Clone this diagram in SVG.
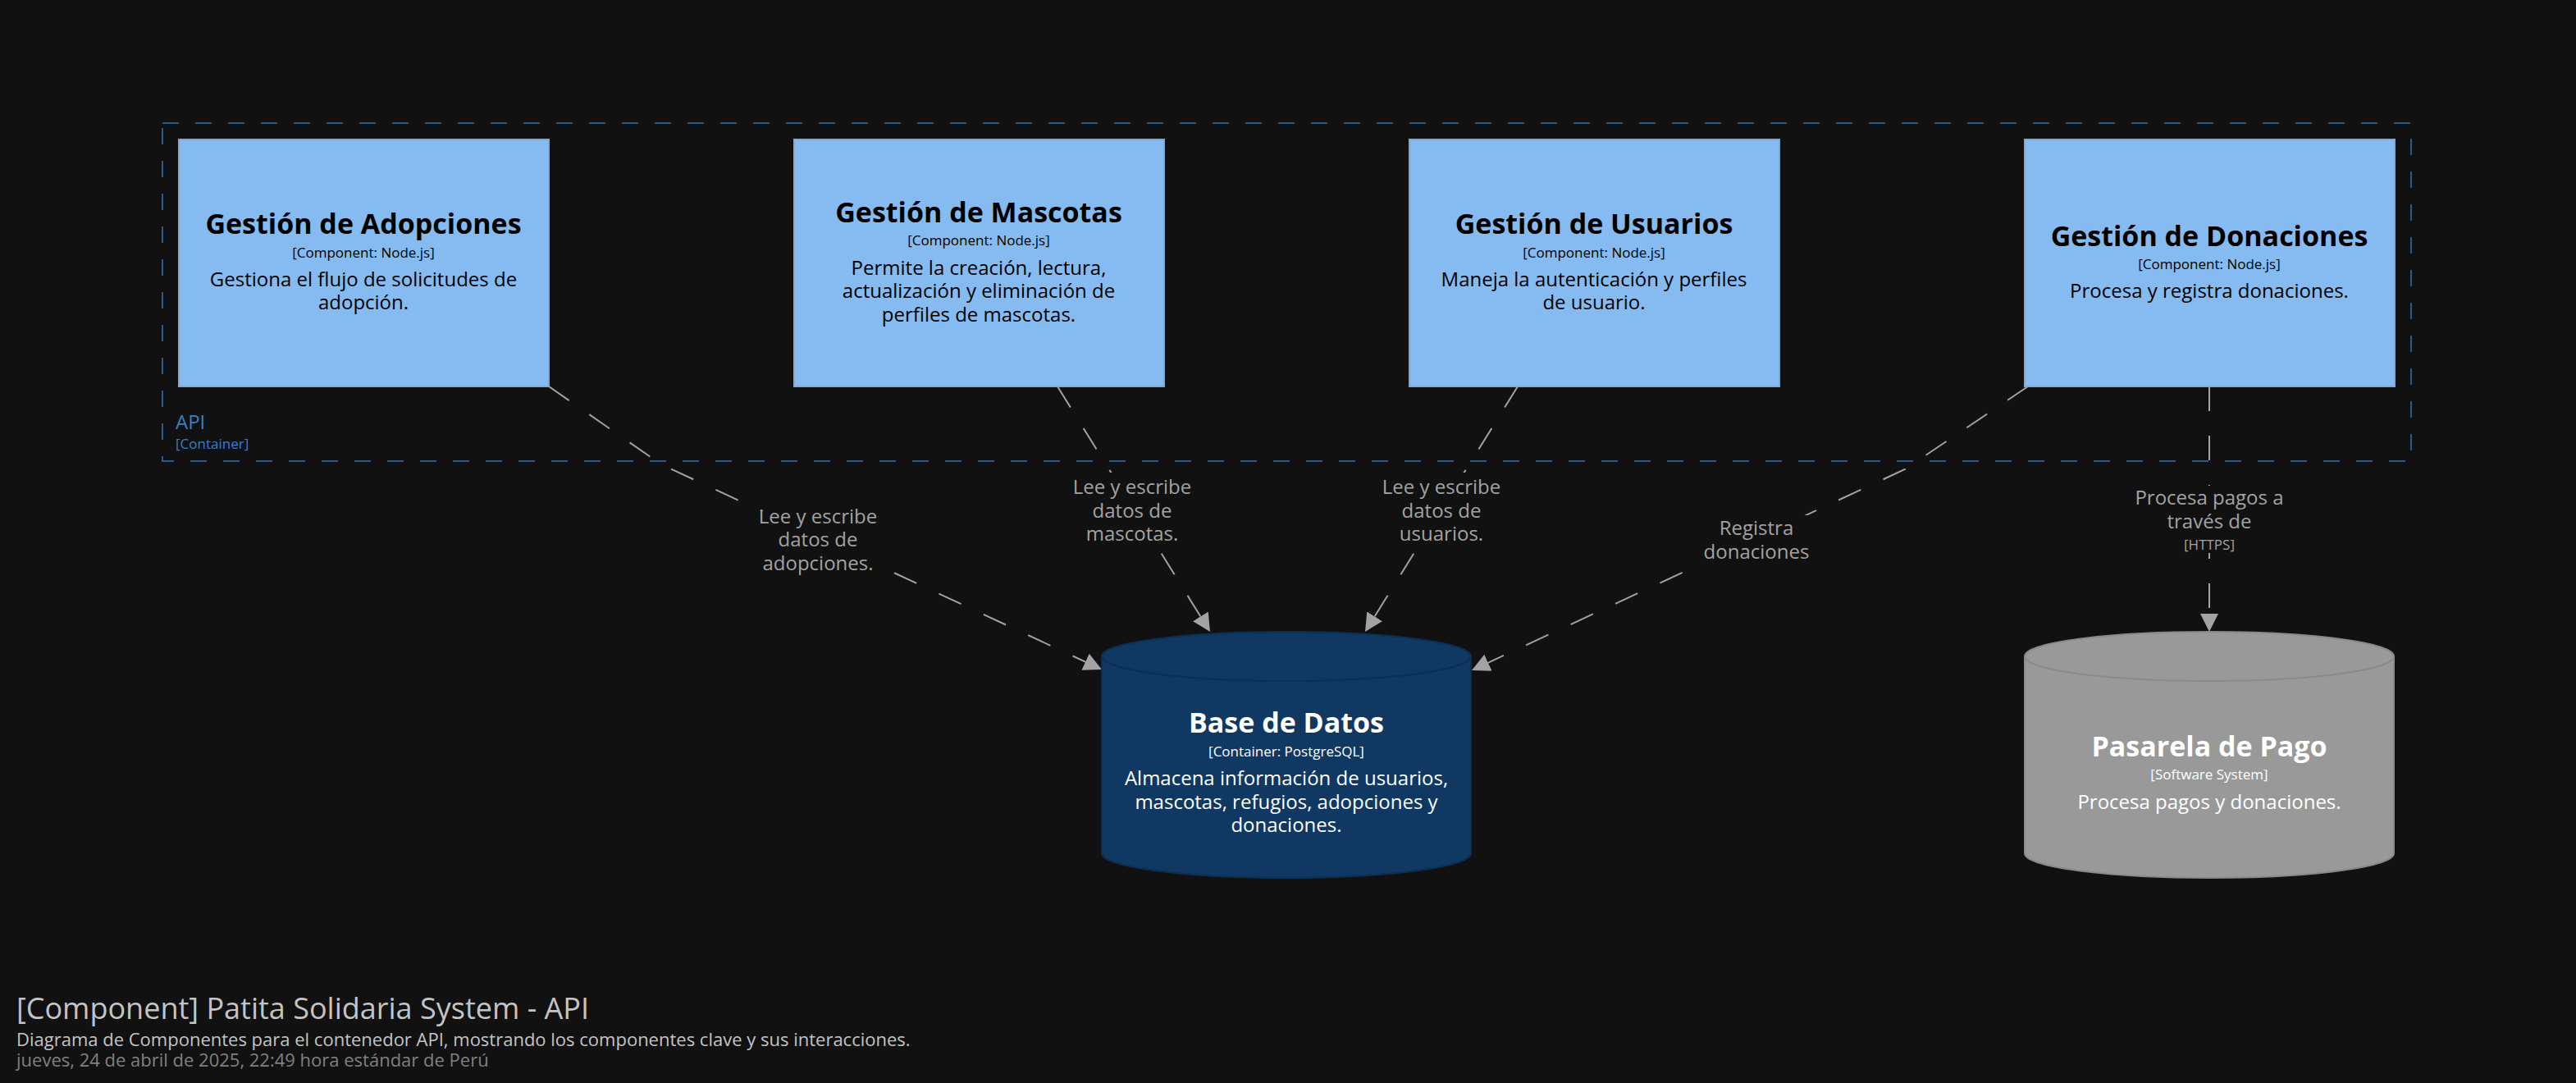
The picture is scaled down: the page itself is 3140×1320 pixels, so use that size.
<svg xmlns="http://www.w3.org/2000/svg" width="3140" height="1320" viewBox="0 0 3140 1320">
<style>
text{font-family:"Open Sans","DejaVu Sans",sans-serif;text-anchor:middle}
.box{fill:#85bbf0;stroke:#78aade;stroke-width:2}
.nm{font-size:34px;font-weight:bold;fill:#000}
.md{font-size:17px;fill:#000}
.ds{font-size:24px;fill:#000}
.w{fill:#fff}
.cn{fill:none;stroke:#a3a3a3;stroke-width:2;stroke-dasharray:30 30}
.lb{font-size:24px;fill:#a3a3a3}
.lbm{font-size:17px;fill:#a3a3a3}
.bg{fill:#111111}
</style>
<defs>
<marker id="ah" markerUnits="userSpaceOnUse" markerWidth="22" markerHeight="22" viewBox="0 0 20 20" refX="20" refY="10" orient="auto">
<path d="M0,0 L20,10 L0,20 Z" fill="#a3a3a3"/>
</marker>
</defs>
<rect width="3140" height="1320" fill="#111111"/>
<g id="api-container">
<rect x="198" y="150" width="2741" height="412" fill="none" stroke="#2c5a87" stroke-width="2" stroke-dasharray="20 20"/>
<text x="214" y="523" style="text-anchor:start;font-size:24px;fill:#3a7fc4">API</text>
<text x="214" y="547" style="text-anchor:start;font-size:17px;fill:#3a7fc4">[Container]</text>
</g>
<g id="connectors">
<path class="cn" d="M669,471 L806,566 L1343,816" marker-end="url(#ah)"/>
<path class="cn" d="M1289,471 L1475,770" marker-end="url(#ah)"/>
<path class="cn" d="M1850,471 L1664,770" marker-end="url(#ah)"/>
<path class="cn" d="M2472,471 L2322,572 L1794,817" marker-end="url(#ah)"/>
<path class="cn" d="M2693,471 L2693,770" marker-end="url(#ah)"/>
<rect class="bg" x="926" y="623" width="144" height="81"/>
<text class="lb" x="997" y="638">Lee y escribe</text>
<text class="lb" x="997" y="666">datos de</text>
<text class="lb" x="997" y="695">adopciones.</text>
<rect class="bg" x="1306" y="576" width="148" height="92"/>
<text class="lb" x="1380" y="602">Lee y escribe</text>
<text class="lb" x="1380" y="631">datos de</text>
<text class="lb" x="1380" y="659">mascotas.</text>
<rect class="bg" x="1683" y="576" width="148" height="92"/>
<text class="lb" x="1757" y="602">Lee y escribe</text>
<text class="lb" x="1757" y="631">datos de</text>
<text class="lb" x="1757" y="659">usuarios.</text>
<rect class="bg" x="2074" y="628" width="134" height="61"/>
<text class="lb" x="2141" y="652">Registra</text>
<text class="lb" x="2141" y="681">donaciones</text>
<rect class="bg" x="2601" y="592" width="184" height="82"/>
<text class="lb" x="2693" y="615">Procesa pagos a</text>
<text class="lb" x="2693" y="644">través de</text>
<text class="lbm" x="2693" y="670">[HTTPS]</text>
</g>
<g id="gestion-adopciones">
<rect class="box" x="218" y="170" width="451" height="301"/>
<text class="nm" x="443" y="285">Gestión de Adopciones</text>
<text class="md" x="443" y="314">[Component: Node.js]</text>
<text class="ds" x="443" y="349">Gestiona el flujo de solicitudes de</text>
<text class="ds" x="443" y="377">adopción.</text>
</g>
<g id="gestion-mascotas">
<rect class="box" x="968" y="170" width="451" height="301"/>
<text class="nm" x="1193" y="271">Gestión de Mascotas</text>
<text class="md" x="1193" y="299">[Component: Node.js]</text>
<text class="ds" x="1193" y="335">Permite la creación, lectura,</text>
<text class="ds" x="1193" y="363">actualización y eliminación de</text>
<text class="ds" x="1193" y="392">perfiles de mascotas.</text>
</g>
<g id="gestion-usuarios">
<rect class="box" x="1718" y="170" width="451" height="301"/>
<text class="nm" x="1943" y="285">Gestión de Usuarios</text>
<text class="md" x="1943" y="314">[Component: Node.js]</text>
<text class="ds" x="1943" y="349">Maneja la autenticación y perfiles</text>
<text class="ds" x="1943" y="377">de usuario.</text>
</g>
<g id="gestion-donaciones">
<rect class="box" x="2468" y="170" width="451" height="301"/>
<text class="nm" x="2693" y="300">Gestión de Donaciones</text>
<text class="md" x="2693" y="328">[Component: Node.js]</text>
<text class="ds" x="2693" y="363">Procesa y registra donaciones.</text>
</g>
<g id="base-de-datos">
<path d="M1343,800 A225,30 0 0 1 1793,800 L1793,1040 A225,30 0 0 1 1343,1040 Z" fill="#0f3862" stroke="#0c2f52" stroke-width="2"/>
<path d="M1343,800 A225,30 0 0 0 1793,800" fill="none" stroke="#0c2f52" stroke-width="2"/>
<text class="nm w" x="1568" y="893">Base de Datos</text>
<text class="md w" x="1568" y="922">[Container: PostgreSQL]</text>
<text class="ds w" x="1568" y="957">Almacena información de usuarios,</text>
<text class="ds w" x="1568" y="986">mascotas, refugios, adopciones y</text>
<text class="ds w" x="1568" y="1014">donaciones.</text>
</g>
<g id="pasarela-de-pago">
<path d="M2468,800 A225,30 0 0 1 2918,800 L2918,1040 A225,30 0 0 1 2468,1040 Z" fill="#999999" stroke="#8a8a8a" stroke-width="2"/>
<path d="M2468,800 A225,30 0 0 0 2918,800" fill="none" stroke="#8a8a8a" stroke-width="2"/>
<text class="nm w" x="2693" y="922">Pasarela de Pago</text>
<text class="md w" x="2693" y="950">[Software System]</text>
<text class="ds w" x="2693" y="986">Procesa pagos y donaciones.</text>
</g>
<g id="title">
<text x="20" y="1242" style="text-anchor:start;font-size:36px;fill:#c4c4c4">[Component] Patita Solidaria System - API</text>
<text x="20" y="1275" style="text-anchor:start;font-size:22px;fill:#c4c4c4">Diagrama de Componentes para el contenedor API, mostrando los componentes clave y sus interacciones.</text>
<text x="20" y="1300" style="text-anchor:start;font-size:22px;fill:#808080">jueves, 24 de abril de 2025, 22:49 hora estándar de Perú</text>
</g>
</svg>
